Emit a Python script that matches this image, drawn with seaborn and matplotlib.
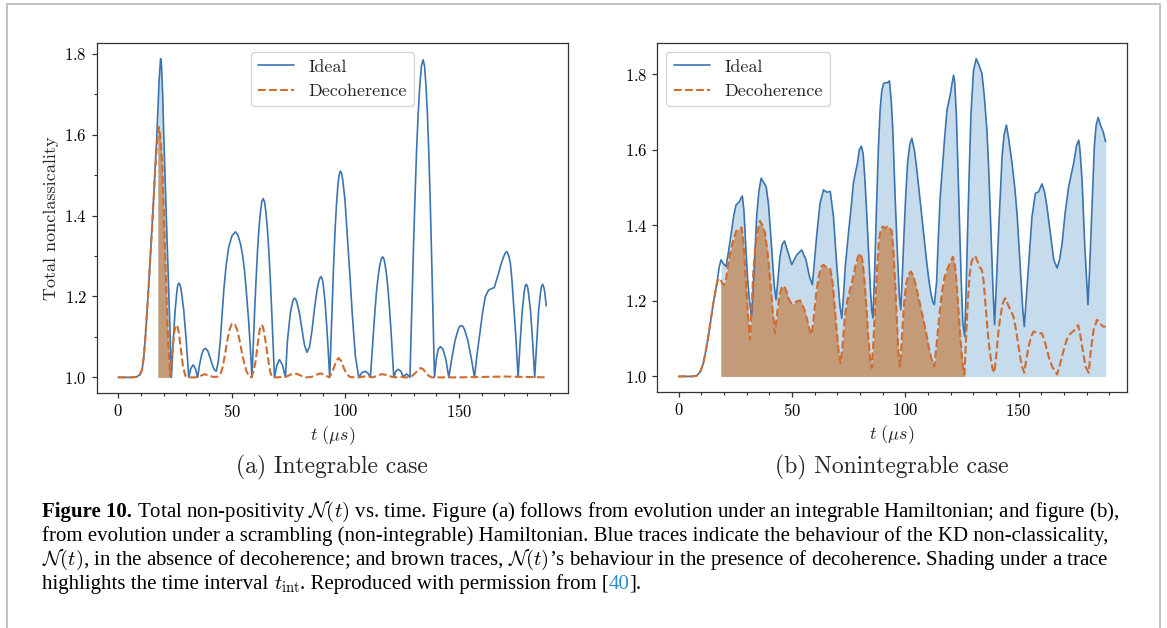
import pandas as pd
import seaborn as sns
import matplotlib.pyplot as plt
from matplotlib.ticker import MultipleLocator
from matplotlib.patches import Rectangle

# ---- (a) integrable case: (t in us, total nonclassicality)
ideal_a = [
    (0, 1.0), (3, 1.0), (6, 1.0), (8, 1.001), (9.5, 1.006), (10.5, 1.018), (11.3, 1.05),
    (12.0, 1.10), (12.7, 1.16), (13.5, 1.23), (14.2, 1.30), (15.0, 1.38), (15.7, 1.45),
    (16.3, 1.52), (16.9, 1.58), (17.5, 1.66), (18.1, 1.74), (18.7, 1.788), (19.1, 1.77),
    (19.6, 1.70), (20.1, 1.595), (20.8, 1.467), (21.55, 1.338), (22.3, 1.209), (23.0, 1.08),
    (23.45, 1.0), (24.26, 1.089), (25.08, 1.165), (25.89, 1.214), (26.29, 1.229), (26.7, 1.233),
    (27.25, 1.229), (27.8, 1.214), (28.9, 1.165), (30.0, 1.089), (31.1, 1.0), (32.0, 1.022),
    (33.0, 1.031), (34.0, 1.022), (35.0, 1.0), (35.8, 1.03), (36.7, 1.055), (37.5, 1.068),
    (38.4, 1.072), (39.4, 1.066), (40.4, 1.05), (41.4, 1.032), (42.3, 1.019), (43.2, 1.015),
    (44.1, 1.04), (45.0, 1.093), (45.8, 1.16), (46.5, 1.216), (47.6, 1.28), (48.7, 1.323),
    (50.1, 1.35), (51.6, 1.36), (52.7, 1.352), (53.8, 1.331), (54.7, 1.305), (55.6, 1.265),
    (56.6, 1.2), (57.5, 1.134), (58.2, 1.07), (58.9, 1.0), (60.1, 1.168), (60.74, 1.246),
    (61.35, 1.314), (61.96, 1.367), (62.6, 1.407), (63.19, 1.434), (63.8, 1.442), (64.43, 1.434),
    (65.05, 1.407), (65.68, 1.367), (66.3, 1.314), (66.93, 1.246), (67.55, 1.168), (68.8, 1.0),
    (69.9, 1.031), (71.0, 1.044), (72.3, 1.031), (73.6, 1.0), (74.5, 1.09), (75.8, 1.16),
    (76.7, 1.185), (77.15, 1.193), (77.6, 1.196), (78.15, 1.193), (78.7, 1.185), (79.8, 1.158),
    (81.0, 1.115), (82.0, 1.08), (83.1, 1.062), (84.2, 1.075), (85.3, 1.115), (86.4, 1.17),
    (87.5, 1.215), (88.4, 1.24), (88.85, 1.246), (89.3, 1.249), (89.8, 1.243), (90.25, 1.23),
    (91.2, 1.177), (92.15, 1.095), (93.1, 1.0), (94.28, 1.194), (94.86, 1.284), (95.45, 1.362),
    (96.04, 1.424), (96.63, 1.469), (97.21, 1.50), (97.8, 1.51), (98.3, 1.505), (98.8, 1.49),
    (99.8, 1.44), (100.7, 1.364), (101.9, 1.26), (103.0, 1.159), (104.4, 1.052), (105.9, 1.0),
    (107.3, 1.012), (108.8, 1.015), (110.0, 1.01), (111.0, 1.0), (112.35, 1.113),
    (113.03, 1.166), (113.7, 1.212), (114.38, 1.248), (115.05, 1.274), (115.73, 1.292),
    (116.4, 1.298), (117.01, 1.292), (117.6, 1.274), (118.24, 1.248), (118.85, 1.212),
    (119.46, 1.166), (120.1, 1.113), (121.3, 1.0), (122.2, 1.015), (123.2, 1.02), (124.4, 1.015),
    (125.7, 1.0), (126.3, 1.006), (126.9, 1.008), (127.6, 1.005), (128.4, 1.0), (129.85, 1.298),
    (130.58, 1.436), (131.3, 1.557), (132.03, 1.652), (132.75, 1.722), (133.48, 1.770),
    (134.2, 1.785), (134.83, 1.770), (135.45, 1.722), (136.08, 1.652), (136.7, 1.557),
    (137.33, 1.436), (137.95, 1.298), (139.2, 1.0), (140.0, 1.045), (140.9, 1.07), (141.8, 1.076),
    (142.9, 1.07), (144.2, 1.045), (145.5, 1.0), (146.9, 1.049), (148.25, 1.091), (149.6, 1.118),
    (150.3, 1.126), (151.0, 1.128), (151.73, 1.126), (152.45, 1.118), (153.9, 1.091),
    (155.35, 1.049), (156.8, 1.0), (158.0, 1.06), (159.4, 1.118), (160.5, 1.165), (161.6, 1.2),
    (163.0, 1.216), (164.3, 1.219), (165.5, 1.222), (166.5, 1.24), (167.4, 1.257), (168.5, 1.28),
    (169.6, 1.298), (170.4, 1.308), (171.1, 1.311), (171.9, 1.3), (172.6, 1.282), (173.3, 1.24),
    (174.0, 1.183), (175.0, 1.1), (176.0, 1.0), (176.9, 1.087), (177.8, 1.163), (178.7, 1.212),
    (179.15, 1.226), (179.6, 1.23), (180.05, 1.226), (180.5, 1.212), (181.5, 1.163),
    (182.4, 1.087), (183.3, 1.0), (184.2, 1.087), (185.0, 1.163), (185.9, 1.212),
    (186.35, 1.226), (186.8, 1.23), (187.2, 1.225), (187.6, 1.215), (188.4, 1.177),
]
decoh_a = [
    (0, 1.0), (3, 1.0), (6, 1.0), (8, 1.001), (9.5, 1.006), (10.5, 1.018), (11.3, 1.05),
    (12.0, 1.10), (12.7, 1.159), (13.5, 1.23), (14.2, 1.298), (15.0, 1.375), (15.7, 1.446),
    (16.3, 1.51), (16.9, 1.562), (17.5, 1.605), (17.9, 1.619), (18.5, 1.6), (19.4, 1.529),
    (20.1, 1.41), (20.8, 1.282), (21.3, 1.2), (21.8, 1.118), (22.4, 1.05), (23.0, 1.003),
    (23.45, 1.03), (23.8, 1.06), (24.7, 1.11), (25.15, 1.125), (25.6, 1.13), (26.1, 1.126),
    (26.6, 1.115), (27.6, 1.07), (28.6, 1.025), (29.6, 1.004), (30.5, 1.0), (32, 1.0), (34, 1.0),
    (36, 1.003), (38, 1.008), (40, 1.004), (42, 1.001), (44, 1.002), (45.0, 1.008), (46.0, 1.025),
    (47.0, 1.055), (48.0, 1.09), (49.0, 1.118), (50.0, 1.132), (50.6, 1.134), (51.5, 1.13),
    (52.5, 1.115), (53.5, 1.09), (54.5, 1.06), (55.5, 1.035), (56.5, 1.015), (57.5, 1.004),
    (58.5, 1.0), (59.5, 1.012), (60.5, 1.04), (61.5, 1.085), (62.3, 1.117), (62.7, 1.126),
    (63.1, 1.13), (63.55, 1.127), (64.0, 1.118), (65.0, 1.085), (66.0, 1.045), (67.0, 1.012),
    (67.8, 1.0), (70, 1.0), (72, 1.001), (74, 1.002), (76, 1.007), (77.5, 1.01), (79, 1.008),
    (81, 1.003), (83, 1.0), (85, 1.001), (87, 1.006), (89, 1.01), (91, 1.006), (92.8, 1.0),
    (93.5, 1.005), (94.7, 1.02), (95.8, 1.038), (97.0, 1.048), (98.2, 1.04), (99.4, 1.022),
    (100.6, 1.008), (102, 1.001), (104, 1.0), (106, 1.0), (108, 1.002), (110, 1.003), (112, 1.0),
    (114, 1.004), (116, 1.008), (118, 1.006), (120, 1.002), (122, 1.0), (124, 1.002), (126, 1.0),
    (128, 1.0), (129.5, 1.004), (131, 1.012), (132.2, 1.02), (133.1, 1.023), (134.2, 1.02),
    (135.4, 1.012), (136.6, 1.004), (138, 1.0), (145, 1.0), (150, 1.0), (160, 1.001),
    (170, 1.002), (180, 1.001), (188.4, 1.0),
]

# ---- (b) nonintegrable case
ideal_b = [
    (0, 1.0), (3, 1.0), (6, 1.0), (8, 1.002), (9.5, 1.012), (10.9, 1.035), (12.0, 1.068),
    (13.1, 1.106), (14.2, 1.15), (15.3, 1.194), (16.2, 1.225), (17.0, 1.251), (17.9, 1.29),
    (18.7, 1.309), (19.6, 1.3), (20.9, 1.291), (22.0, 1.33), (23.4, 1.388), (24.3, 1.425),
    (25.3, 1.454), (26.8, 1.463), (27.5, 1.472), (28.1, 1.478), (28.8, 1.44), (29.7, 1.335),
    (30.4, 1.26), (31.2, 1.203), (32.2, 1.159), (33.4, 1.291), (34.4, 1.423), (35.4, 1.49),
    (36.4, 1.525), (37.7, 1.512), (38.6, 1.503), (39.6, 1.458), (41.1, 1.335), (42.2, 1.238),
    (43.0, 1.203), (44.7, 1.317), (45.7, 1.35), (46.7, 1.359), (48.4, 1.326), (49.9, 1.296),
    (52.1, 1.322), (54.3, 1.335), (56.2, 1.309), (57.7, 1.265), (59.0, 1.243), (60.0, 1.31),
    (61.0, 1.379), (62.4, 1.459), (63.9, 1.494), (65.4, 1.488), (66.9, 1.49), (68.3, 1.423),
    (69.8, 1.291), (71.2, 1.185), (72.0, 1.154), (72.8, 1.22), (73.5, 1.29), (74.2, 1.335),
    (75.1, 1.39), (76.0, 1.441), (77.1, 1.512), (78.0, 1.54), (78.9, 1.565), (79.7, 1.6),
    (80.6, 1.61), (81.4, 1.59), (82.2, 1.52), (83.0, 1.43), (83.8, 1.33), (84.6, 1.23),
    (85.2, 1.175), (85.7, 1.155), (86.5, 1.28), (87.3, 1.45), (88.1, 1.6), (88.9, 1.706),
    (89.6, 1.755), (90.4, 1.776), (91.2, 1.778), (92.1, 1.778), (93.0, 1.783), (93.8, 1.73),
    (94.5, 1.653), (95.5, 1.476), (96.7, 1.3), (97.4, 1.21), (98.0, 1.176), (98.7, 1.27),
    (99.5, 1.388), (100.2, 1.48), (101.0, 1.565), (102.0, 1.615), (102.9, 1.631), (104.0, 1.6),
    (105.1, 1.547), (106.2, 1.485), (107.3, 1.423), (108.4, 1.36), (109.5, 1.3), (110.4, 1.255),
    (111.3, 1.22), (112.1, 1.198), (112.8, 1.19), (113.8, 1.25), (114.6, 1.37), (115.4, 1.476),
    (116.4, 1.555), (117.4, 1.635), (118.4, 1.706), (119.8, 1.745), (120.6, 1.775),
    (121.3, 1.798), (121.8, 1.78), (122.5, 1.697), (123.2, 1.56), (124.0, 1.388), (124.7, 1.25),
    (125.4, 1.141), (126.2, 1.106), (126.8, 1.22), (127.5, 1.388), (128.3, 1.56), (129.0, 1.697),
    (130.1, 1.811), (131.3, 1.842), (132.5, 1.825), (133.8, 1.803), (134.9, 1.74), (136.0, 1.653),
    (136.8, 1.55), (137.5, 1.433), (138.1, 1.33), (138.7, 1.229), (139.4, 1.137), (140.2, 1.25),
    (141.2, 1.388), (142.0, 1.49), (142.7, 1.582), (143.6, 1.64), (144.6, 1.666), (145.6, 1.63),
    (147.1, 1.565), (148.3, 1.5), (149.3, 1.432), (150.2, 1.34), (151.0, 1.256), (151.8, 1.18),
    (152.5, 1.132), (153.4, 1.21), (154.4, 1.3), (155.9, 1.423), (157.4, 1.485), (158.8, 1.489),
    (160.3, 1.51), (161.4, 1.49), (162.5, 1.45), (164.0, 1.379), (165.5, 1.309), (167.0, 1.287),
    (168.1, 1.31), (169.2, 1.353), (170.6, 1.437), (172.1, 1.503), (173.2, 1.535),
    (174.3, 1.565), (175.5, 1.61), (176.5, 1.626), (176.9, 1.61), (177.3, 1.58), (178.0, 1.52),
    (179.2, 1.344), (180.6, 1.19), (181.3, 1.28), (182.0, 1.388), (183.4, 1.608), (184.2, 1.665),
    (185.1, 1.686), (186.2, 1.665), (187.3, 1.648), (188.4, 1.622),
]
decoh_b = [
    (0, 1.0), (3, 1.0), (6, 1.0), (8, 1.002), (9.5, 1.012), (10.9, 1.035), (12.0, 1.068),
    (13.1, 1.106), (14.2, 1.15), (15.3, 1.194), (16.2, 1.225), (17.0, 1.251), (17.9, 1.26),
    (18.6, 1.255), (19.4, 1.245), (20.2, 1.243), (21.0, 1.26), (22.2, 1.31), (23.4, 1.344),
    (24.3, 1.365), (25.3, 1.384), (26.5, 1.39), (27.8, 1.395), (28.5, 1.36), (29.2, 1.3),
    (29.7, 1.25), (30.6, 1.16), (31.5, 1.097), (32.3, 1.2), (33.0, 1.28), (33.7, 1.335),
    (34.8, 1.385), (35.9, 1.412), (37.0, 1.4), (38.1, 1.38), (39.2, 1.33), (40.3, 1.26),
    (41.4, 1.18), (42.5, 1.115), (43.5, 1.17), (44.5, 1.215), (45.5, 1.235), (46.5, 1.24),
    (47.6, 1.225), (48.6, 1.205), (49.6, 1.194), (50.6, 1.193), (51.6, 1.197), (52.6, 1.2),
    (53.6, 1.201), (54.6, 1.19), (55.6, 1.175), (56.7, 1.15), (57.7, 1.125), (58.7, 1.11),
    (59.7, 1.16), (60.7, 1.22), (61.8, 1.265), (62.9, 1.29), (63.9, 1.296), (64.9, 1.29),
    (65.9, 1.288), (66.9, 1.285), (67.9, 1.25), (68.9, 1.18), (69.9, 1.11), (70.7, 1.06),
    (71.5, 1.035), (72.4, 1.09), (73.4, 1.16), (74.4, 1.2), (75.4, 1.225), (76.4, 1.247),
    (77.4, 1.275), (78.3, 1.3), (79.2, 1.318), (80.1, 1.326), (81.0, 1.31), (81.9, 1.26),
    (82.8, 1.19), (83.6, 1.11), (84.4, 1.05), (85.2, 1.022), (86.0, 1.1), (86.8, 1.2),
    (87.6, 1.29), (88.4, 1.36), (89.2, 1.39), (90.0, 1.397), (91.0, 1.393), (92.0, 1.397),
    (93.0, 1.395), (94.0, 1.385), (94.8, 1.33), (95.6, 1.24), (96.4, 1.13), (97.0, 1.06),
    (97.7, 1.026), (98.5, 1.1), (99.4, 1.19), (100.4, 1.245), (101.4, 1.27), (102.5, 1.278),
    (103.6, 1.265), (104.7, 1.24), (105.8, 1.21), (106.9, 1.18), (108.0, 1.15), (109.2, 1.115),
    (110.3, 1.08), (111.4, 1.05), (112.8, 1.026), (113.9, 1.09), (115.0, 1.16), (116.1, 1.22),
    (117.2, 1.26), (118.4, 1.282), (119.6, 1.3), (121.0, 1.317), (121.8, 1.3), (122.6, 1.25),
    (123.4, 1.18), (124.2, 1.11), (125.0, 1.05), (125.6, 1.02), (126.1, 1.005), (126.8, 1.1),
    (127.6, 1.2), (128.4, 1.27), (129.3, 1.305), (130.1, 1.315), (130.9, 1.319), (131.8, 1.305),
    (132.8, 1.29), (133.8, 1.282), (134.6, 1.25), (135.4, 1.19), (136.2, 1.13), (137.0, 1.08),
    (137.8, 1.045), (138.5, 1.02), (139.3, 1.01), (140.2, 1.06), (141.2, 1.124), (142.0, 1.16),
    (142.7, 1.185), (143.4, 1.2), (144.1, 1.207), (145.3, 1.19), (146.5, 1.175), (147.7, 1.159),
    (148.5, 1.135), (149.3, 1.106), (150.7, 1.05), (151.6, 1.025), (152.5, 1.01), (153.4, 1.045),
    (154.4, 1.079), (155.5, 1.105), (156.6, 1.119), (158.4, 1.115), (160.3, 1.114), (161.4, 1.095),
    (162.5, 1.07), (163.6, 1.045), (164.8, 1.026), (167.0, 1.005), (168.4, 1.035), (169.9, 1.07),
    (171.4, 1.1), (172.9, 1.114), (175.0, 1.124), (176.3, 1.136), (177.2, 1.11), (178.0, 1.079),
    (178.8, 1.05), (179.5, 1.026), (180.9, 1.01), (181.9, 1.07), (183.1, 1.124), (184.6, 1.15),
    (185.9, 1.14), (187.3, 1.132), (188.4, 1.132),
]

# shaded t_int windows (start, end) for the ideal and decoherence traces
shade_a = {"ideal": (17.5, 23.45), "decoh": (17.5, 23.45)}
shade_b = {"ideal": (18.6, 188.4), "decoh": (18.6, 126.1)}

BLUE = "#3b74ae"
ORANGE = "#cf6c30"
BLUE_FILL = "#c6dbec"
BROWN_FILL = "#c49b78"

sns.set_theme(style="ticks")
plt.rcParams.update({
    "font.family": ["cmr10", "DejaVu Serif"],
    "mathtext.fontset": "cm",
    "axes.formatter.use_mathtext": True,
    "axes.unicode_minus": False,
    "axes.edgecolor": "#333333",
    "axes.linewidth": 0.9,
    "xtick.color": "#333333",
    "ytick.color": "#333333",
    "xtick.labelcolor": "black",
    "ytick.labelcolor": "black",
    "xtick.major.size": 3.5,
    "ytick.major.size": 3.5,
    "xtick.minor.size": 2.2,
    "ytick.minor.size": 2.2,
    "xtick.major.width": 0.9,
    "ytick.major.width": 0.9,
    "xtick.minor.width": 0.8,
    "ytick.minor.width": 0.8,
    "xtick.labelsize": 12,
    "ytick.labelsize": 12,
    "axes.labelsize": 13,
})

W, H = 1167, 628
fig = plt.figure(figsize=(W / 100, H / 100), dpi=100)
ax1 = fig.add_axes([96.7 / W, 1 - 393.3 / H, 471 / W, 350.6 / H])
ax2 = fig.add_axes([657.3 / W, 1 - 392.3 / H, 469.7 / W, 349.6 / H])


def draw_panel(ax, ideal, decoh, shade, legend_loc):
    df_i = pd.DataFrame(ideal, columns=["t", "N"])
    df_d = pd.DataFrame(decoh, columns=["t", "N"])
    lo, hi = shade["ideal"]
    sub = df_i[(df_i.t >= lo) & (df_i.t <= hi)]
    ax.fill_between(sub.t, 1.0, sub.N, color=BLUE_FILL, lw=0, zorder=1)
    lo, hi = shade["decoh"]
    sub = df_d[(df_d.t >= lo) & (df_d.t <= hi)]
    ax.fill_between(sub.t, 1.0, sub.N, color=BROWN_FILL, lw=0, zorder=1.5)
    sns.lineplot(data=df_i, x="t", y="N", ax=ax, color=BLUE, lw=1.2, label="Ideal", zorder=2)
    sns.lineplot(data=df_d, x="t", y="N", ax=ax, color=ORANGE, lw=1.5, ls="--",
                 label="Decoherence", zorder=3)
    ax.xaxis.set_major_locator(MultipleLocator(50))
    ax.xaxis.set_minor_locator(MultipleLocator(10))
    ax.yaxis.set_major_locator(MultipleLocator(0.2))
    ax.set_xlabel(r"$t\ (\mu s)$", labelpad=3)
    ax.set_ylabel("")
    for s in ax.spines.values():
        s.set_visible(True)
    ax.legend(loc=legend_loc, fontsize=13, framealpha=0.8, edgecolor="0.8")


draw_panel(ax1, ideal_a, decoh_a, shade_a, "upper center")
draw_panel(ax2, ideal_b, decoh_b, shade_b, "upper left")
ax1.yaxis.set_minor_locator(MultipleLocator(0.1))
ax1.set_ylabel("Total nonclassicality")

fig.text(332 / W, 1 - 467 / H, "(a) Integrable case", ha="center", va="center", fontsize=17)
fig.text(892 / W, 1 - 467 / H, "(b) Nonintegrable case", ha="center", va="center", fontsize=17)

# caption below the panels
cap = dict(family=["Liberation Serif", "DejaVu Serif"], fontsize=15, color="black")
x0 = 42 / W
base = [517, 541, 565, 589]


def after(prev, y, s, **kw):
    return ax1.annotate(s, xy=(1, 1 - y / H), xycoords=(prev, "figure fraction"),
                        ha="left", va="baseline", annotation_clip=False, **kw)


t1 = fig.text(x0, 1 - base[0] / H, "Figure 10.", ha="left", va="baseline",
              fontweight="bold", **cap)
after(t1, base[0], " Total non-positivity $\\mathcal{N}(t)$ vs. time. Figure (a) follows from "
      "evolution under an integrable Hamiltonian; and figure (b),", **cap)
fig.text(x0, 1 - base[1] / H, "from evolution under a scrambling (non-integrable) Hamiltonian. "
         "Blue traces indicate the behaviour of the KD non-classicality,", ha="left",
         va="baseline", **cap)
fig.text(x0, 1 - base[2] / H, "$\\mathcal{N}(t)$, in the absence of decoherence; and brown "
         "traces, $\\mathcal{N}(t)$\u2019s behaviour in the presence of decoherence. Shading "
         "under a trace", ha="left", va="baseline", **cap)
t4 = fig.text(x0, 1 - base[3] / H, "highlights the time interval ", ha="left",
              va="baseline", **cap)
t4 = after(t4, base[3], "$t_{\\mathrm{int}}$", **cap)
t4 = after(t4, base[3], ". Reproduced with permission from [", **cap)
t5 = after(t4, base[3], "40", **{**cap, "color": "#2a8ccf"})
after(t5, base[3], "].", **cap)

# light page frame around the figure block
fig.add_artist(Rectangle((7 / W, -0.05), (1160 - 7) / W, 1.05 - 4 / H,
                         transform=fig.transFigure, fill=False, ec="#b8b8b8", lw=1.2))

fig.savefig("out.png", dpi=100)
